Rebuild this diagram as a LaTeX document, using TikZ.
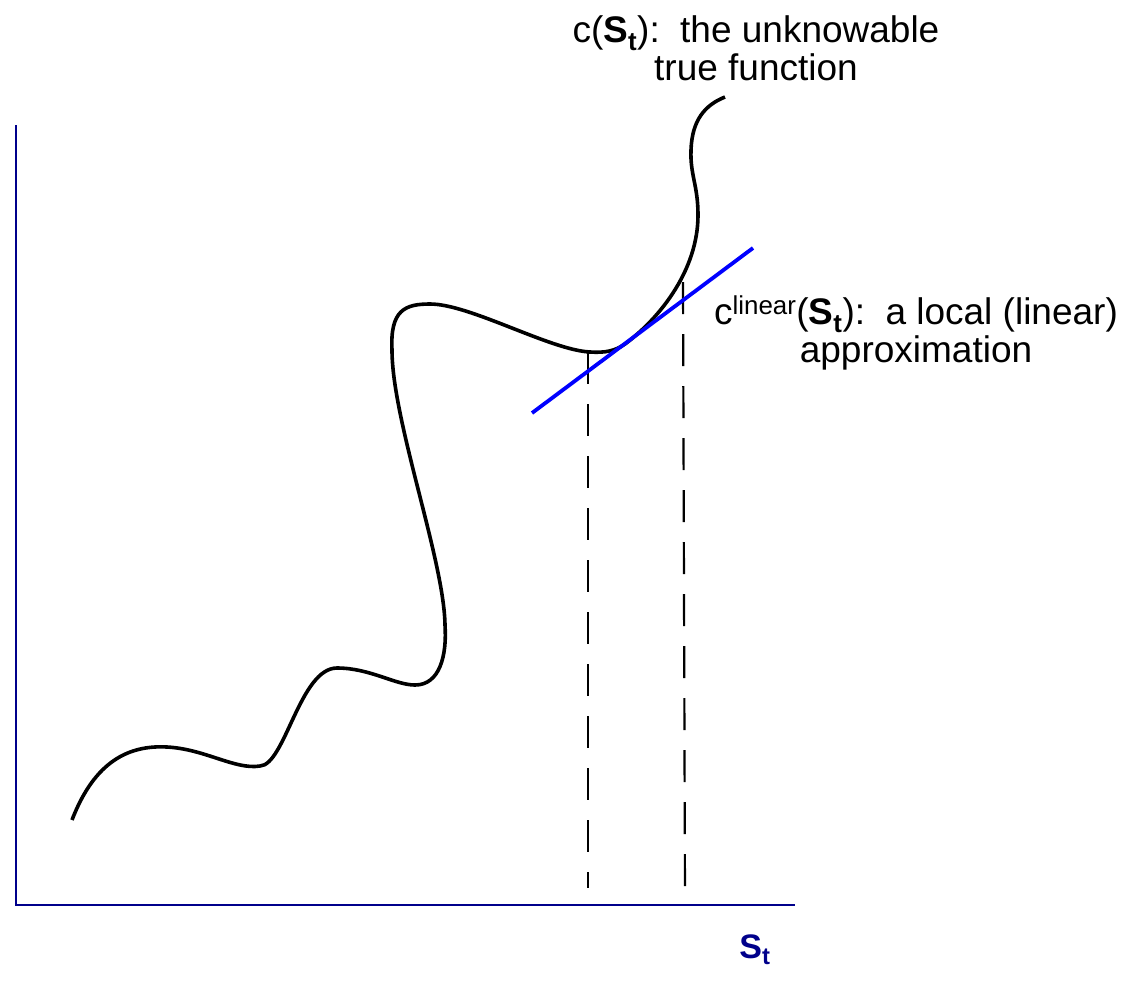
\documentclass[tikz,border=0pt]{standalone}
\usepackage{fontspec}
\setmainfont{Liberation Sans}
\definecolor{axisblue}{RGB}{0,0,139}
\begin{document}
\begin{tikzpicture}[x=1pt,y=-1pt,
  axis/.style={draw=axisblue, line width=2.4pt, line join=miter},
  curve/.style={draw=black, line width=3.6pt, line join=round},
  guide/.style={draw=black, line width=2.2pt, dash pattern=on 32pt off 20pt},
  tangent/.style={draw=blue, line width=3.8pt},
  lbl/.style={font=\fontsize{37}{38}\selectfont, align=center, inner sep=0pt}]
\useasboundingbox (0,0) rectangle (1123,983);
% axes
\coordinate (ytop) at (16,125);
\coordinate (origin) at (16,905);
\coordinate (xend) at (795,905);
\draw[axis] (ytop) -- (origin) -- (xend);
% true function
\draw[curve] (72,820) .. controls (95,760) and (130,745) .. (167,747)
  .. controls (205,749) and (235,770) .. (260,766)
  .. controls (285,765) and (300,668) .. (337,668)
  .. controls (370,668) and (395,685) .. (415,685)
  .. controls (440,685) and (447,655) .. (445,625)
  .. controls (444,560) and (392,420) .. (392,350)
  .. controls (390,310) and (405,304) .. (430,304)
  .. controls (470,304) and (550,350) .. (590,352)
  .. controls (605,353) and (615,351) .. (625,344)
  .. controls (660,318) and (698,270) .. (698,215)
  .. controls (698,185) and (690,175) .. (691,150)
  .. controls (692,120) and (705,105) .. (725,97);
% guide lines
\coordinate (g1top) at (588,352);
\coordinate (g1bot) at (588,888);
\coordinate (g2top) at (683,282);
\coordinate (g2bot) at (685,903);
\draw[guide] (g1top) -- (g1bot);
\draw[guide] (g2top) -- (g2bot);
% tangent
\coordinate (tanA) at (532,413);
\coordinate (tanB) at (753,248);
\draw[tangent] (tanA) -- (tanB);
% labels
\node[lbl, anchor=north] (truelbl) at (756,15)
  {c({\bfseries S}\textsubscript{\bfseries t}):\hspace{0.55em}the unknowable\\true function};
\node[lbl, anchor=north] (linlbl) at (916,296)
  {c\textsuperscript{linear}({\bfseries S}\textsubscript{\bfseries t}):\hspace{0.55em}a local (linear)\\approximation};
\node[font=\fontsize{34}{40}\selectfont\bfseries, text=axisblue, inner sep=0pt, anchor=base] (xlbl) at (755,958)
  {S\textsubscript{t}};
\end{tikzpicture}
\end{document}
